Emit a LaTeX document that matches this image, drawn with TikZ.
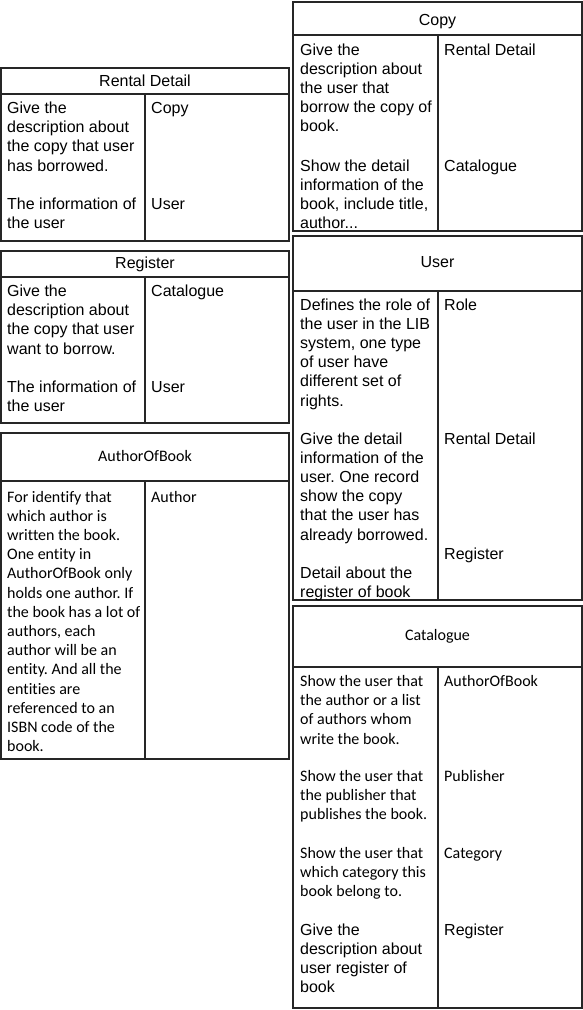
\documentclass[tikz,border=0pt]{standalone}
\usepackage{fontspec}
\setmainfont{Liberation Sans}
\newfontfamily\calibri[Ligatures=NoCommon]{Carlito}
\usepackage{tikz}
\usetikzlibrary{positioning}
\frenchspacing
\tikzstyle{frame}=[line width=1.2pt,black!85]
\tikzstyle{txt}=[anchor=base west,inner sep=0pt,text width=160pt,align=flush left,font=\fontsize{16}{19.2}\selectfont]
\tikzstyle{ttl}=[anchor=base,inner sep=0pt,font=\fontsize{16}{19.2}\selectfont]
\tikzstyle{cal}=[font=\calibri\fontsize{16}{19.2}\selectfont]

\begin{document}
\begin{tikzpicture}[x=1pt,y=-1pt]
\useasboundingbox (0,0) rectangle (583,1010);
% Rental Detail
\draw[frame] (1,68) rectangle (289,241);
\draw[frame] (1,94) -- (289,94) (145,94) -- (145,241);
\node[ttl] (rdT) at (145,86.5) {Rental Detail};
\node[txt] (rdCopyD) at (7,113.5) {Give the\\description about\\the copy that user\\has borrowed.};
\node[txt] (rdCopy) at (151,113.5) {Copy};
\node[txt] (rdUserD) at (7,209.5) {The information of\\the user};
\node[txt] (rdUser) at (151,209.5) {User};
% Register
\draw[frame] (1,251) rectangle (289,423);
\draw[frame] (1,277) -- (289,277) (145,277) -- (145,423);
\node[ttl] (rgT) at (145,268.5) {Register};
\node[txt] (rgCatD) at (7,296.5) {Give the\\description about\\the copy that user\\want to borrow.};
\node[txt] (rgCat) at (151,296.5) {Catalogue};
\node[txt] (rgUserD) at (7,392.5) {The information of\\the user};
\node[txt] (rgUser) at (151,392.5) {User};
% AuthorOfBook
\draw[frame] (1,433) rectangle (289,759);
\draw[frame] (1,481) -- (289,481) (145,481) -- (145,759);
\node[ttl,cal] (abT) at (145,461.5) {AuthorOfBook};
\node[txt,cal] (abAuthD) at (7,502) {For identify that\\which author is\\written the book.\\One entity in\\AuthorOfBook only\\holds one author. If\\the book has a lot of\\authors, each\\author will be an\\entity. And all the\\entities are\\referenced to an\\ISBN code of the\\book.};
\node[txt,cal] (abAuth) at (151,502) {Author};
% Copy
\draw[frame] (293,2) rectangle (582,231);
\draw[frame] (293,35) -- (582,35) (438,35) -- (438,231);
\node[ttl] (cpT) at (437.5,25) {Copy};
\node[txt] (cpRentD) at (300,55) {Give the\\description about\\the user that\\borrow the copy of\\book.};
\node[txt] (cpRent) at (444,55) {Rental Detail};
\node[txt] (cpCatD) at (300,171) {Show the detail\\information of the\\book, include title,\\author...};
\node[txt] (cpCat) at (444,171) {Catalogue};
% User
\draw[frame] (293,236) rectangle (582,600);
\draw[frame] (293,291) -- (582,291) (438,291) -- (438,600);
\node[ttl] (usT) at (437.5,267) {User};
\node[txt] (usRoleD) at (300,310) {Defines the role of\\the user in the LIB\\system, one type\\of user have\\different set of\\rights.};
\node[txt] (usRole) at (444,310) {Role};
\node[txt] (usRentD) at (300,444) {Give the detail\\information of the\\user. One record\\show the copy\\that the user has\\already borrowed.};
\node[txt] (usRent) at (444,444) {Rental Detail};
\node[txt] (usReg) at (444,559.5) {Register};
\node[txt] (usRegD) at (300,578) {Detail about the\\register of book};
% Catalogue
\draw[frame] (293,606) rectangle (582,1008);
\draw[frame] (293,667) -- (582,667) (438,667) -- (438,1008);
\node[ttl,cal] (ctT) at (437.5,640.5) {Catalogue};
\node[txt,cal] (ctAobD) at (300,686.5) {Show the user that\\the author or a list\\of authors whom\\write the book.};
\node[txt,cal] (ctAob) at (444,686.5) {AuthorOfBook};
\node[txt,cal] (ctPubD) at (300,781.5) {Show the user that\\the publisher that\\publishes the book.};
\node[txt,cal] (ctPub) at (444,781.5) {Publisher};
\node[txt,cal] (ctCatD) at (300,858.5) {Show the user that\\which category this\\book belong to.};
\node[txt,cal] (ctCat) at (444,858.5) {Category};
\node[txt] (ctRegD) at (300,935) {Give the\\description about\\user register of\\book};
\node[txt] (ctReg) at (444,935) {Register};
\end{tikzpicture}
\end{document}
